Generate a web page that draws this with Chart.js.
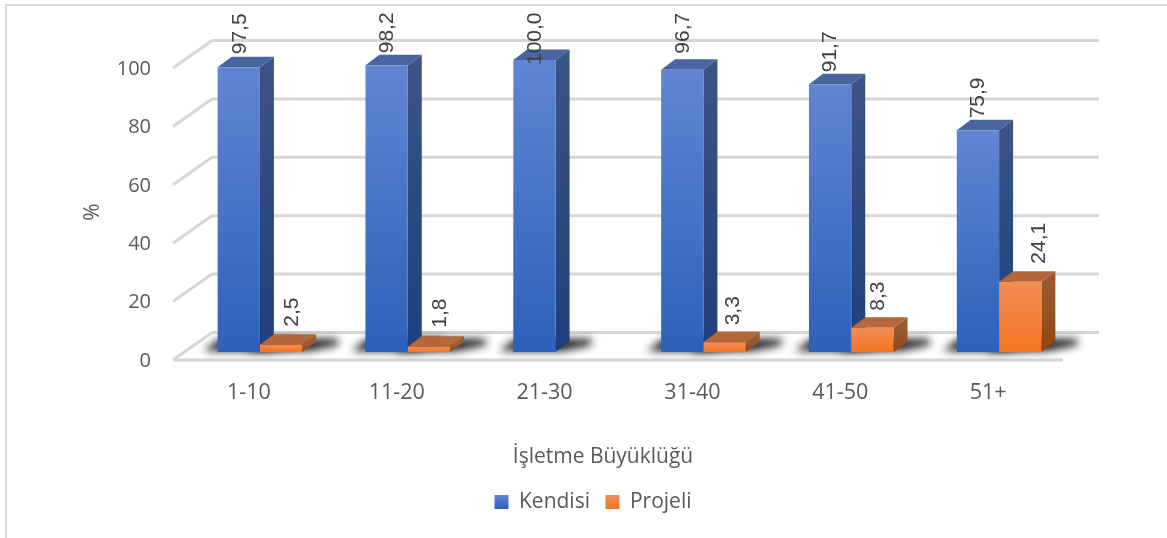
<!DOCTYPE html>
<html lang="tr">
<head>
<meta charset="utf-8">
<title>İşletme Büyüklüğü</title>
<script src="https://cdn.jsdelivr.net/npm/chart.js@4/dist/chart.umd.min.js"></script>
<style>
  html, body { margin: 0; padding: 0; background: #fff; overflow: hidden; }
  #wrap { position: relative; width: 1167px; height: 538px; }
  /* cerceve: sadece sol ve ust kenar */
  #frame { position: absolute; left: 5px; top: 4px; right: 0; bottom: 0;
           border-left: 2px solid #d9d9d9; border-top: 2px solid #d9d9d9; }
  canvas { position: absolute; left: 0; top: 0; }
</style>
</head>
<body>
<div id="wrap">
  <div id="frame"></div>
  <canvas id="chart" width="1167" height="538"></canvas>
</div>
<script>
// --- Veri ---
const categories = ["1-10", "11-20", "21-30", "31-40", "41-50", "51+"];
const kendisi = [97.5, 98.2, 100.0, 96.7, 91.7, 75.9];
const projeli = [2.5, 1.8, null, 3.3, 8.3, 24.1];
const yTicks = [0, 20, 40, 60, 80, 100];

// --- Sabitler ---
const FONT = '"Open Sans", sans-serif';
const LABEL_FONT = '21px "Liberation Sans", sans-serif';
const TEXT = "#595959";
const SHIFT_X = 11;       // sutunlar zemin ortasina kaysin
const DEPTH_X = 14, DEPTH_Y = 10.5;   // sutun derinligi
const WALL_X = 37, WALL_Y = 19.5, FRONT_Y = 8;  // arka duvar / on kenar
const LEGEND_SHIFT = 62;  // legend grafik alanina gore saga

const palette = [
  { front: ["#6086d2", "#2d61ba"], top: "#48659f", side: ["#3c5386", "#1f3f7c"] },
  { front: ["#f38d56", "#f47420"], top: "#b5673a", side: ["#9c5a33", "#8f470f"] },
];

// deger etiketlerinin elle kaydirma paylari (x, y)
const labelNudge = [
  [[1, 13], [1, 12], [1, -5], [1, 16], [0, 12], [0, 12]],
  [[11, 18], [11, 19], [0, 0], [9, 17], [6, 17], [19, 18]],
];

function verticalGradient(cv, colors, y0, y1) {
  const grad = cv.createLinearGradient(0, y0, 0, y1);
  grad.addColorStop(0, colors[0]);
  grad.addColorStop(1, colors[1]);
  return grad;
}

function barFill(ctx, series) {
  const colors = palette[series].front;
  const y = ctx.chart.scales.y;
  const y0 = y.getPixelForValue(ctx.parsed ? ctx.parsed.y : NaN);
  const y1 = y.getPixelForValue(0);
  if (!Number.isFinite(y0) || !Number.isFinite(y1)) return colors[0];
  return verticalGradient(ctx.chart.ctx, colors, y0, y1);
}

function line(c, x1, y1, x2, y2) {
  c.beginPath();
  c.moveTo(x1, y1);
  c.lineTo(x2, y2);
  c.stroke();
}

function poly(c, pts) {
  c.beginPath();
  pts.forEach((p, i) => (i ? c.lineTo(p[0], p[1]) : c.moveTo(p[0], p[1])));
  c.closePath();
  c.fill();
}

// veri olan sutunlar, bos deger atlanir
function eachBar(chart, ds, fn) {
  const values = chart.data.datasets[ds].data;
  chart.getDatasetMeta(ds).data.forEach((el, i) => {
    if (values[i] == null) return;
    fn(el, values[i], i);
  });
}

// Izgara, zemin, golge, 3B sutunlar ve etiketler burada ciziliyor
const bars3d = {
  id: "bars3d",
  afterLayout(chart) {
    chart.legend.left += LEGEND_SHIFT;
    chart.legend.right += LEGEND_SHIFT;
  },
  beforeDatasetsDraw(chart) {
    const c = chart.ctx;
    const { left, right } = chart.chartArea;
    const yScale = chart.scales.y;
    const backL = left + WALL_X;
    const backR = right + WALL_X;

    c.save();
    c.strokeStyle = "#d6d6d6";
    c.lineWidth = 3;
    yScale.ticks.forEach((t) => {
      const py = yScale.getPixelForValue(t.value);
      line(c, backL, py - WALL_Y, backR, py - WALL_Y);
      line(c, left - 2, py + FRONT_Y, backL, py - WALL_Y);
    });
    const py0 = yScale.getPixelForValue(0);
    line(c, left - 2, py0 + FRONT_Y, right + 1, py0 + FRONT_Y);

    // zemindeki golgeler
    c.filter = "blur(4px)";
    c.fillStyle = "rgba(25,25,25,1)";
    [0, 1].forEach((ds) => {
      eachBar(chart, ds, (el) => {
        const xL = el.x - el.width / 2 + SHIFT_X;
        const xR = xL + el.width;
        poly(c, [
          [xL - 14, py0 - 1],
          [xR + 6, py0 - 1],
          [xR + DEPTH_X + 22, py0 - 7],
          [xR + DEPTH_X + 22, py0 - 13],
          [xL + 2, py0 - 13],
        ]);
      });
    });
    c.restore();

    // once mavi, sonra turuncu: turuncu mavinin yan yuzunun onune biner
    [0, 1].forEach((ds) => {
      const pal = palette[ds];
      eachBar(chart, ds, (el) => {
        const xL = el.x - el.width / 2 + SHIFT_X;
        const xR = xL + el.width;
        c.fillStyle = verticalGradient(c, pal.side, el.y, el.base);
        poly(c, [[xR, el.y], [xR + DEPTH_X, el.y - DEPTH_Y], [xR + DEPTH_X, el.base - DEPTH_Y], [xR, el.base]]);
        c.fillStyle = pal.top;
        poly(c, [[xL, el.y], [xL + DEPTH_X, el.y - DEPTH_Y], [xR + DEPTH_X, el.y - DEPTH_Y], [xR, el.y]]);
        c.save();
        c.translate(SHIFT_X, 0);
        el.draw(c, chart.chartArea);
        c.restore();
      });
    });

    // deger etiketleri, dikey
    c.save();
    c.font = LABEL_FONT;
    c.fillStyle = "#404040";
    c.textAlign = "left";
    c.textBaseline = "middle";
    [0, 1].forEach((ds) => {
      eachBar(chart, ds, (el, v, i) => {
        const n = labelNudge[ds][i];
        c.save();
        c.translate(el.x + SHIFT_X + n[0], el.y - n[1]);
        c.rotate(-Math.PI / 2);
        c.fillText(v.toFixed(1).replace(".", ","), 0, 0);
        c.restore();
      });
    });
    c.restore();

    // eksen basliklari
    c.save();
    c.fillStyle = TEXT;
    c.textAlign = "center";
    c.textBaseline = "middle";
    c.font = "21px " + FONT;
    c.fillText("İşletme Büyüklüğü", 603, 457);
    c.translate(93, 212);
    c.rotate(-Math.PI / 2);
    c.fillText("%", 0, 0);
    c.restore();

    return false;
  },
};

new Chart(document.getElementById("chart"), {
  type: "bar",
  data: {
    labels: categories,
    datasets: [
      { label: "Kendisi", data: kendisi, backgroundColor: (ctx) => barFill(ctx, 0) },
      { label: "Projeli", data: projeli, backgroundColor: (ctx) => barFill(ctx, 1) },
    ],
  },
  options: {
    responsive: false,
    animation: false,
    events: [],
    layout: { padding: { top: 60, right: 105, left: 0, bottom: 15.5 } },
    datasets: { bar: { categoryPercentage: 0.572, barPercentage: 1, borderWidth: 0 } },
    scales: {
      x: {
        grid: { display: false },
        border: { display: false },
        ticks: { color: TEXT, font: { family: FONT, size: 21.5 }, padding: 20, maxRotation: 0 },
        afterFit(scale) { scale.height = 124; },
      },
      y: {
        min: 0,
        max: 100,
        grid: { display: false },
        border: { display: false },
        afterBuildTicks(scale) { scale.ticks = yTicks.map((v) => ({ value: v })); },
        ticks: { color: TEXT, font: { family: FONT, size: 20 }, padding: 16, labelOffset: 9 },
        afterFit(scale) { scale.width = 175; },
      },
    },
    plugins: {
      title: { display: false },
      tooltip: { enabled: false },
      legend: {
        position: "bottom",
        labels: {
          color: TEXT,
          font: { family: FONT, size: 21 },
          boxWidth: 14,
          boxHeight: 14,
          padding: 15.5,
          generateLabels(chart) {
            const items = Chart.defaults.plugins.legend.labels.generateLabels(chart);
            items.forEach((item, i) => {
              item.fillStyle = verticalGradient(chart.ctx, palette[i].front, 495, 509);
              item.lineWidth = 0;
            });
            return items;
          },
        },
      },
    },
  },
  plugins: [bars3d],
});
</script>
</body>
</html>
